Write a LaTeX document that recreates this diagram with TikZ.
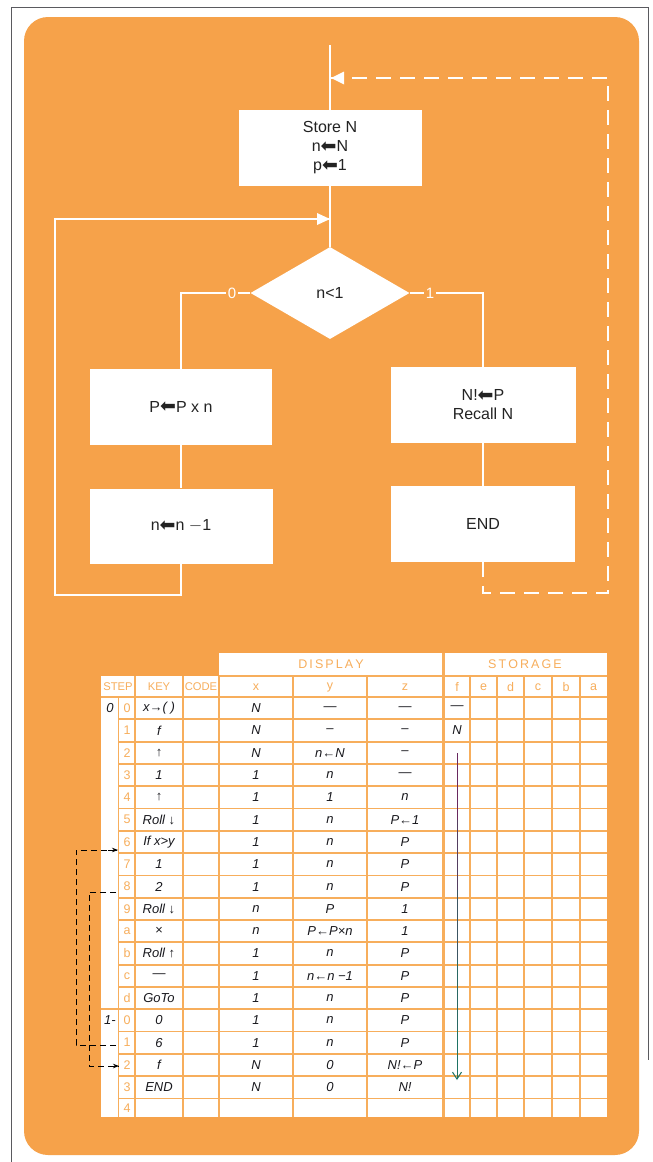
\documentclass[tikz,border=0pt]{standalone}
\usepackage{fontspec}
\setmainfont{Liberation Sans}
\newfontfamily\hand{Liberation Sans}
\newfontfamily\symf{DejaVu Sans}
\usetikzlibrary{shapes.geometric,arrows.meta}
\definecolor{panel}{RGB}{246,162,74}
\definecolor{gridc}{RGB}{247,174,92}
\definecolor{ink}{RGB}{35,35,35}
\definecolor{hink}{RGB}{25,25,30}
\definecolor{frame}{RGB}{90,90,95}
\definecolor{arrA}{RGB}{105,40,95}
\definecolor{arrB}{RGB}{30,115,100}
\newcommand{\la}{{\symf\fontsize{19}{19}\selectfont\raisebox{-0.4pt}{⬅}}}
\begin{document}
\begin{tikzpicture}[x=1pt,y=-1pt,
  fbox/.style={fill=white,text=ink,minimum width=183pt,minimum height=76pt,align=center,inner sep=0pt,font=\fontsize{16}{19}\selectfont},
  dia/.style={diamond,fill=white,text=ink,minimum width=159pt,minimum height=92pt,aspect=1.73,inner sep=0pt,font=\fontsize{16}{19}\selectfont},
  flow/.style={draw=white,line width=1.4pt},
  dflow/.style={flow,line width=1.6pt,dash pattern=on 15pt off 9pt},
  blab/.style={text=white,inner sep=2pt,font=\fontsize{15}{15}\selectfont},
  hd/.style={text=gridc,inner sep=0pt,font=\fontsize{12.5}{13}\selectfont},
  hds/.style={text=gridc,inner sep=0pt,font=\fontsize{11.2}{12}\selectfont},
  stepd/.style={text=gridc,inner sep=0pt,font=\fontsize{12.5}{13}\selectfont},
  hw/.style={text=hink,inner sep=0pt,font=\hand\itshape\fontsize{13}{13}\selectfont},
  jump/.style={draw=black,line width=0.9pt,dash pattern=on 6pt off 4pt},
  jumptip/.style={-{Stealth[length=6pt,width=4.5pt]}},
  gl/.style={draw=gridc,line width=1.8pt}
]
\useasboundingbox (0,0) rectangle (653,1162);
\fill[white] (0,0) rectangle (653,1162);
% page frame
\draw[frame,line width=0.8pt] (11,1162) -- (11,7) -- (648,7) -- (648,1060);
% panel
\fill[panel,rounded corners=24pt] (24,17) rectangle (639,1155);

% ---------------- flowchart ----------------
\coordinate (topstart) at (330,45);
\node[fbox] (store) at (330,148) {Store N\\n\la N\\p\la 1};
\node[dia] (dia) at (330,293) {n<1};
\node[fbox,minimum width=182pt] (pbox) at (181,407) {P\la P x n};
\node[fbox,minimum width=183pt,minimum height=75pt] (nbox) at (181,526) {n\la n $-$1};
\node[fbox,minimum width=185pt] (nfbox) at (483,405) {N!\la P\\Recall N};
\node[fbox,minimum width=184pt] (endbox) at (483,524) {END};
\node[blab] (zero) at (232,293) {0};
\node[blab] (one) at (430,293) {1};

\draw[flow] (topstart) -- (store.north);
\draw[flow] (store.south) -- (dia.north);
\draw[flow] (dia.west) -- (zero) -| (pbox.north);
\draw[flow] (dia.east) -- (one) -| (nfbox.north);
\draw[flow] (pbox.south) -- (nbox.north);
\draw[flow] (nfbox.south) -- (endbox.north);
\coordinate (lc1) at (55,595);
\coordinate (lc2) at (55,219);
\coordinate (loopin) at (330,219);
\draw[flow] (nbox.south) |- (lc1) -- (lc2) -- (loopin);
\fill[white] (loopin) -- ++(-13,-6) -- ++(0,12) -- cycle;
\coordinate (dc1) at (608,593);
\coordinate (dc2) at (608,78);
\coordinate (dashin) at (331,78);
\draw[dflow] (endbox.south) |- (dc1) -- (dc2) -- (dashin);
\fill[white] (dashin) -- ++(13,-6.5) -- ++(0,13) -- cycle;

% ---------------- table ----------------
\fill[white] (101,676) rectangle (607,1117);
\fill[white] (219,653) rectangle (607,676);
\foreach \k in {1,...,13,15,16,17,18}
  \draw[gl] (118.5,{697+22.3*\k}) -- (607,{697+22.3*\k});
\draw[gl] (101,697) -- (607,697);
\draw[gl] (101,1009.2) -- (607,1009.2);
\draw[gl] (219,676) -- (607,676);
\draw[gl] (118.5,697) -- (118.5,1117);
\foreach \xx in {135,183,219,293,367,470,497,524,552,580}
  \draw[gl] (\xx,676) -- (\xx,1117);
\draw[gl,line width=3pt] (443,653) -- (443,1117);

\node[hd] (hdisp) at (331,664.5) {D\,I\,S\,P\,L\,A\,Y};
\node[hd] (hstor) at (525,664.5) {S\,T\,O\,R\,A\,G\,E};
\foreach \n/\xx/\t in {hstep/118/STEP,hkey/159/KEY,hcode/201/CODE}
  \node[hds] (\n) at (\xx,687) {\t};
\foreach \n/\xx/\t in {hx/256/x,hy/330/y,hz/405/z,hf/457/f,he/483.5/e,hd/510.5/d,hc/538/c,hb/566/b,ha/593.5/a}
  \node[hd] (\n) at (\xx,687) {\t};

\foreach \k/\s in {0/0,1/1,2/2,3/3,4/4,5/5,6/6,7/7,8/8,9/9,10/a,11/b,12/c,13/d,14/0,15/1,16/2,17/3}
  \node[stepd] (s\k) at (127,{697+22.3*(\k+0.5)}) {\s};
\node[stepd] (s18) at (127,1108.5) {4};
\node[hw] (g0) at (110,708) {0};
\node[hw] (g1) at (110,1020.5) {1-};

\foreach \k/\kk/\xv/\yv/\zv in {
  0/{x→( )}/N/—/—,
  1/f/N/–/–,
  2/↑/N/{n←N}/–,
  3/1/1/n/—,
  4/↑/1/1/n,
  5/{Roll ↓}/1/n/{P←1},
  6/{If x>y}/1/n/P,
  7/1/1/n/P,
  8/2/1/n/P,
  9/{Roll ↓}/n/P/1,
  10/×/n/{P←P×n}/1,
  11/{Roll ↑}/1/n/P,
  12/—/1/{n←n −1}/P,
  13/{GoTo}/1/n/P,
  14/0/1/n/P,
  15/6/1/n/P,
  16/f/N/0/{N!←P},
  17/{END}/N/0/{N!}}
{
  \node[hw] (k\k) at (159,{697+22.3*(\k+0.5)}) {\kk};
  \node[hw] (x\k) at (256,{697+22.3*(\k+0.5)}) {\xv};
  \node[hw] (y\k) at (330,{697+22.3*(\k+0.5)}) {\yv};
  \node[hw] (z\k) at (405,{697+22.3*(\k+0.5)}) {\zv};
}
\node[hw] (f0) at (457,708) {—};
\node[hw] (f1) at (457,730.5) {N};

% storage arrow
\coordinate (fa0) at (457,753);
\coordinate (fa1) at (457,820);
\coordinate (fa2) at (457,890);
\coordinate (fa3) at (457,960);
\coordinate (fa4) at (457,1030);
\coordinate (fa5) at (457,1080);
\draw[line width=1pt,arrA] (fa0) -- (fa1);
\draw[line width=1pt,arrA!70!arrB] (fa1) -- (fa2);
\draw[line width=1pt,arrA!40!arrB] (fa2) -- (fa3);
\draw[line width=1pt,arrA!15!arrB] (fa3) -- (fa4);
\draw[line width=1pt,arrB,-{Straight Barb[length=7pt,width=9pt]}] (fa4) -- (fa5);

% jump arrows
\coordinate (ja0) at (116,892);
\coordinate (ja1) at (89,892);
\coordinate (ja2) at (89,1066);
\coordinate (ja3) at (119,1066);
\draw[jump] (ja0) -- (ja1) -- (ja2) -- (ja3);
\draw[black,line width=0.9pt,jumptip] (110,1066) -- (ja3);
\coordinate (jb0) at (116,1045);
\coordinate (jb1) at (76,1045);
\coordinate (jb2) at (76,850);
\coordinate (jb3) at (118,850);
\draw[jump] (jb0) -- (jb1) -- (jb2) -- (jb3);
\draw[black,line width=0.9pt,jumptip] (108,850) -- (jb3);
\end{tikzpicture}
\end{document}
